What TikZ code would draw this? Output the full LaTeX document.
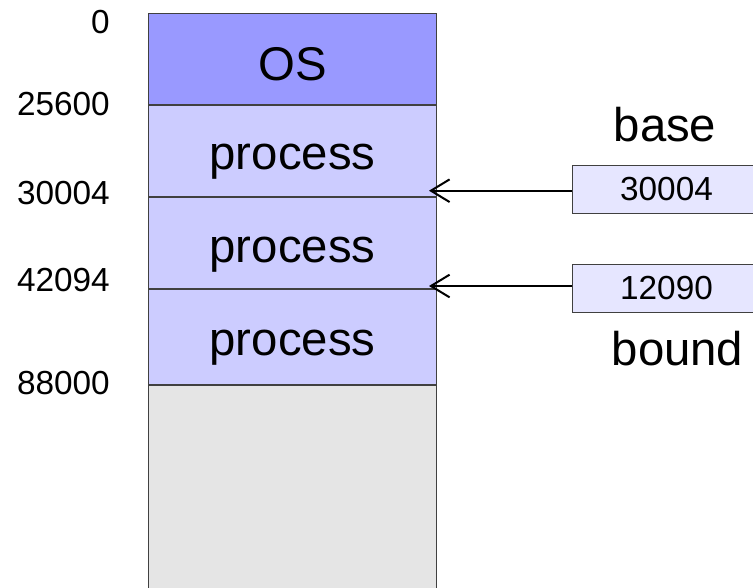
\documentclass[tikz,border=0pt]{standalone}
\usepackage{fontspec}
\setmainfont{Liberation Sans}
\usetikzlibrary{arrows.meta}
\definecolor{oscol}{HTML}{9999FF}
\definecolor{proccol}{HTML}{CCCCFF}
\definecolor{freecol}{HTML}{E5E5E5}
\definecolor{regcol}{HTML}{E6E6FF}
\definecolor{edgecol}{HTML}{404040}
\begin{document}
\begin{tikzpicture}[x=0.75pt,y=-0.75pt,
  sec/.style={draw=edgecol,line width=0.75pt,inner sep=0pt,minimum width=216pt,anchor=north west,font=\fontsize{35.5}{40}\selectfont,align=center},
  addr/.style={inner sep=0pt,anchor=east,font=\fontsize{25}{30}\selectfont},
  reg/.style={draw=edgecol,line width=0.75pt,fill=regcol,inner sep=0pt,minimum width=141pt,minimum height=36pt,anchor=north west,font=\fontsize{25}{30}\selectfont},
  big/.style={inner sep=0pt,anchor=base,font=\fontsize{35.5}{40}\selectfont},
  ptr/.style={line width=1.5pt,{Straight Barb[length=14pt,width=17pt,line width=1.5pt]}-}]
\useasboundingbox (0,0) rectangle (753,587);
% memory column
\node[sec,fill=oscol,text height=50.25pt,text depth=18pt] (os) at (148,13) {OS};
\node[sec,fill=proccol,text height=48pt,text depth=20.25pt] (p1) at (os.south west) {process};
\node[sec,fill=proccol,text height=48.75pt,text depth=19.5pt] (p2) at (p1.south west) {process};
\node[sec,fill=proccol,text height=49.5pt,text depth=21.75pt] (p3) at (p2.south west) {process};
\node[sec,fill=freecol,minimum height=165pt] (free) at (p3.south west) {};
% addresses
\node[addr] (a0) at (110,22.5) {0};
\node[addr] (a1) at (110,104) {25600};
\node[addr] (a2) at (110,193) {30004};
\node[addr] (a3) at (110,280) {42094};
\node[addr] (a4) at (110,383.5) {88000};
% registers
\node[big] (basel) at (665,141.7) {base};
\node[reg] (base) at (572,165) {30004};
\node[reg] (bound) at (572,263.5) {12090};
\node[big] (boundl) at (677.5,365) {bound};
% pointers
\coordinate (t1) at (429,190.7);
\coordinate (t2) at (429,286);
\draw[ptr] (t1) -- (t1 -| base.west);
\draw[ptr] (t2) -- (t2 -| bound.west);
\end{tikzpicture}
\end{document}
